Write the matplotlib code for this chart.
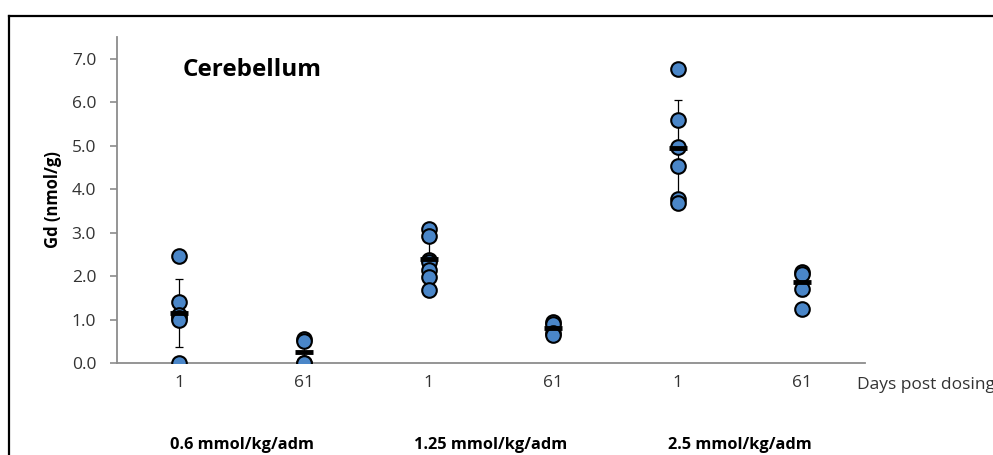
import matplotlib
matplotlib.use("Agg")
import matplotlib.pyplot as plt
from matplotlib.lines import Line2D

plt.rcParams['font.family'] = ['Open Sans', 'DejaVu Sans']

# tick labels along x (days post dosing) and dose groups
days = ["1", "61", "1", "61", "1", "61"]
doses = ["0.6 mmol/kg/adm", "1.25 mmol/kg/adm", "2.5 mmol/kg/adm"]

# individual Gd values per group (nmol/g)
g1 = [2.47, 1.41, 1.10, 1.04, 0.99, 0.0]
g2 = [0.55, 0.50, 0.0, 0.0]
g3 = [3.08, 2.92, 2.37, 2.33, 2.14, 1.97, 1.68]
g4 = [0.95, 0.90, 0.70, 0.64]
g5 = [6.77, 5.58, 4.98, 4.54, 3.77, 3.68]
g6 = [2.10, 2.05, 1.70, 1.25]
groups = [g1, g2, g3, g4, g5, g6]

# group means and SD
means = [1.15, 0.26, 2.39, 0.81, 4.94, 1.86]
sds = [0.79, 0.28, 0.50, 0.15, 1.12, 0.33]

fig = plt.figure(figsize=(9.93, 4.55), dpi=100)
ax = fig.add_axes([0.1178, 0.2022, 0.753, 0.7165])

xs = list(range(len(days)))
ax.errorbar(xs, means, yerr=sds, fmt='none', ecolor='black', elinewidth=0.9,
            capsize=3.2, capthick=0.9, zorder=2)
for i, vals in enumerate(groups):
    ax.plot([i] * len(vals), vals, 'o', ms=10.5, mfc='#4a86c8', mec='black',
            mew=1.5, zorder=3)
ax.plot(xs, means, '_', ms=13, mew=3.5, color='black', zorder=4)

ax.set_xlim(-0.5, 5.5)
ax.set_ylim(0, 7.5)
ax.set_yticks([0, 1, 2, 3, 4, 5, 6, 7])
ax.set_yticklabels(["%.1f" % v for v in range(8)])
ax.set_xticks(xs)
ax.set_xticklabels(days)

for s in ['top', 'right']:
    ax.spines[s].set_visible(False)
for s in ['left', 'bottom']:
    ax.spines[s].set_color('#8c8c8c')
    ax.spines[s].set_linewidth(1.3)
ax.tick_params(axis='y', length=5, width=1.2, color='#8c8c8c', labelsize=12.5,
               labelcolor='#333333', pad=10)
ax.tick_params(axis='x', length=0, labelsize=12.5, labelcolor='#333333', pad=9)

ax.set_ylabel("Gd (nmol/g)", fontsize=12, fontweight='bold', labelpad=7)
ax.text(0.088, 0.9, "Cerebellum", transform=ax.transAxes, fontsize=17.5,
        fontweight='bold', va='center', ha='left')

fig.text(857 / 993, 1 - 385 / 455, "Days post dosing", fontsize=12.5,
         color='#333333', ha='left', va='center')
for k, d in enumerate(doses):
    xc = ax.transData.transform((2 * k + 0.5, 0))[0] / fig.bbox.width
    fig.text(xc, 1 - 445 / 455, d, fontsize=11.8, fontweight='bold',
             ha='center', va='center')

# frame lines at left and top edges
fig.add_artist(Line2D([8.5 / 993, 8.5 / 993], [0, 1 - 15.5 / 455],
                      transform=fig.transFigure, color='black', lw=1.6))
fig.add_artist(Line2D([8.5 / 993, 1], [1 - 15.5 / 455, 1 - 15.5 / 455],
                      transform=fig.transFigure, color='black', lw=1.6))

fig.savefig("out.png", dpi=100)
